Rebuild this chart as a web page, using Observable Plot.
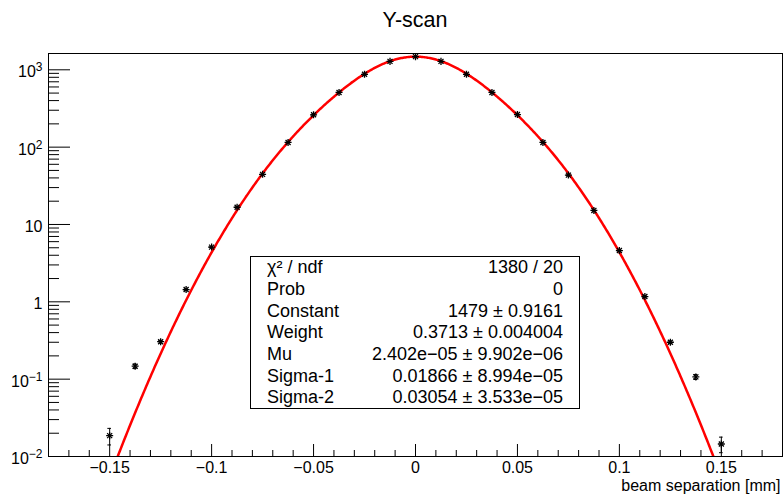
<!DOCTYPE html>
<html>
<head>
<meta charset="utf-8">
<script src="https://cdn.jsdelivr.net/npm/d3@7"></script>
<script src="https://cdn.jsdelivr.net/npm/@observablehq/plot@0.6"></script>
<style>
  body { margin: 0; background: #fff; font-family: "Liberation Sans", Arial, Helvetica, sans-serif; }
  #wrap { position: relative; width: 783px; height: 498px; }
  #title { position: absolute; left: 48px; width: 734px; top: 10px; text-align: center;
           font-size: 21.5px; line-height: 1; color: #000; }
  #chart { position: absolute; left: 0; top: 40px; }
</style>
</head>
<body>
<div id="wrap">
  <div id="title">Y-scan</div>
  <div id="chart"></div>
</div>
<script>
// ---- data ----
const xValues = [-0.15, -0.1375, -0.125, -0.1125, -0.1, -0.0875, -0.075, -0.0625, -0.05, -0.0375, -0.025, -0.0125,
                 0, 0.0125, 0.025, 0.0375, 0.05, 0.0625, 0.075, 0.0875, 0.1, 0.1125, 0.125, 0.1375, 0.15];
const yValues = [0.0186, 0.147, 0.305, 1.44, 5.1, 16.7, 44.5, 115, 262, 510, 875, 1285,
                 1480, 1285, 875, 510, 264, 115, 43.5, 15.2, 4.6, 1.17, 0.30, 0.107, 0.0145];
const yErrors = [0.0045, 0.010, 0.012, 0.03, 0.06, 0.12, 0.2, 0.35, 0.5, 0.7, 0.9, 1.1,
                 1.2, 1.1, 0.9, 0.7, 0.5, 0.35, 0.2, 0.12, 0.06, 0.03, 0.012, 0.008, 0.0033];

// fit function parameters (double Gaussian) from the stats box
const fitParams = [1479, 0.3713, 2.402e-05, 0.01866, 0.03054]; // Constant, Weight, Mu, Sigma-1, Sigma-2

const xMajorTicks = [-0.15, -0.1, -0.05, 0, 0.05, 0.1, 0.15];
const xTickLabels = ["\u22120.15", "\u22120.1", "\u22120.05", "0", "0.05", "0.1", "0.15"];
const xMinorTicks = [-0.17, -0.16, -0.14, -0.13, -0.12, -0.11, -0.09, -0.08, -0.07, -0.06, -0.04, -0.03, -0.02, -0.01,
                     0.01, 0.02, 0.03, 0.04, 0.06, 0.07, 0.08, 0.09, 0.11, 0.12, 0.13, 0.14, 0.16, 0.17];
const yMajorTicks = [0.01, 0.1, 1, 10, 100, 1000];
const yTickBase = ["10", "10", "1", "10", "10", "10"];
const yTickExp  = ["\u22122", "\u22121", "", "", "2", "3"];
const yDecades = [0.01, 0.1, 1, 10, 100];
const yMinorMult = [2, 3, 4, 5, 6, 7, 8, 9];

const xLabel = "beam separation [mm]";
const statsLabels = ["\u03c7\u00b2 / ndf", "Prob", "Constant", "Weight", "Mu", "Sigma-1", "Sigma-2"];
const statsValues = ["1380 / 20", "0", "1479 \u00b1 0.9161", "0.3713 \u00b1 0.004004",
                     "2.402e\u221205 \u00b1 9.902e\u221206", "0.01866 \u00b1 8.994e\u221205", "0.03054 \u00b1 3.533e\u221205"];

// ---- build tables ----
const points = xValues.map((x, i) => ({x, y: yValues[i], e: yErrors[i]}));
const yMinorTicks = [];
yDecades.forEach(d => yMinorMult.forEach(m => yMinorTicks.push(+(d * m).toPrecision(3))));

const [C, W, MU, S1, S2] = fitParams;
const fitFn = x => C * (W * Math.exp(-0.5 * ((x - MU) / S1) ** 2) + (1 - W) * Math.exp(-0.5 * ((x - MU) / S2) ** 2));
const curve = d3.range(-0.18, 0.18001, 0.0005).map(x => ({x, y: fitFn(x)}));

// ---- layout ----
const width = 783, height = 458;
const mL = 48, mR = 1, mT = 13, mB = 42;
const frameW = width - mL - mR, frameH = height - mT - mB;
const cap = 0.0009;

const plot = Plot.plot({
  width, height,
  marginLeft: mL, marginRight: mR, marginTop: mT, marginBottom: mB,
  style: {fontFamily: "Liberation Sans, Arial, Helvetica, sans-serif", background: "white", color: "black", overflow: "visible"},
  x: {domain: [-0.18, 0.18]},
  y: {type: "log", domain: [0.01, 1625]},
  marks: [
    Plot.line(curve, {x: "x", y: "y", stroke: "#ff0000", strokeWidth: 2.5, clip: true}),
    Plot.ruleX(points, {x: "x", y1: d => d.y - d.e, y2: d => d.y + d.e, stroke: "black", strokeWidth: 1, clip: true}),
    Plot.ruleY(points, {y: d => d.y - d.e, x1: d => d.x - cap, x2: d => d.x + cap, stroke: "black", strokeWidth: 1, clip: true}),
    Plot.ruleY(points, {y: d => d.y + d.e, x1: d => d.x - cap, x2: d => d.x + cap, stroke: "black", strokeWidth: 1, clip: true}),
    Plot.dot(points, {x: "x", y: "y", symbol: "plus", r: 2.4, stroke: "black", strokeWidth: 1.3}),
    Plot.dot(points, {x: "x", y: "y", symbol: "times", r: 2.4, stroke: "black", strokeWidth: 1.3}),
    Plot.tickX(xMajorTicks, {x: d => d, insetTop: frameH - 12, stroke: "black"}),
    Plot.tickX(xMinorTicks, {x: d => d, insetTop: frameH - 6, stroke: "black"}),
    Plot.tickY(yMajorTicks, {y: d => d, insetRight: frameW - 22, stroke: "black"}),
    Plot.tickY(yMinorTicks, {y: d => d, insetRight: frameW - 11, stroke: "black"}),
    Plot.frame({stroke: "black", strokeWidth: 1}),
    Plot.axisX(xMajorTicks, {tickSize: 0, tickPadding: 5.4, fontSize: 16, label: null,
      tickFormat: d => xTickLabels[xMajorTicks.indexOf(d)]}),
    Plot.axisY(yMajorTicks, {tickSize: 0, tickPadding: 6, fontSize: 16, label: null, dy: 2.5,
      tickFormat: d => { const i = yMajorTicks.indexOf(d); return yTickBase[i] + (yTickExp[i] ? "^" + yTickExp[i] : ""); }}),
    Plot.text([xLabel], {text: d => d, frameAnchor: "bottom-right", textAnchor: "end", lineAnchor: "top",
      fontSize: 16, dx: -2, dy: 23.2})
  ]
});

document.getElementById("chart").appendChild(plot);
const svg = d3.select(plot);

// superscript exponents on the log-axis labels
svg.selectAll("text").each(function () {
  const t = this.textContent;
  if (t.includes("^")) {
    const [base, exp] = t.split("^");
    const el = d3.select(this);
    el.text(null);
    el.append("tspan").text(base);
    el.append("tspan").attr("font-size", 12).attr("dy", -6).text(exp);
  }
});

// stats box (ROOT TPaveStats style)
const box = {x: 250, y: 216, w: 329, h: 152};
const g = svg.append("g").attr("font-family", "Liberation Sans, Arial, Helvetica, sans-serif").attr("font-size", 18);
g.append("rect").attr("x", box.x + 0.5).attr("y", box.y + 0.5).attr("width", box.w).attr("height", box.h)
  .attr("fill", "white").attr("stroke", "black").attr("stroke-width", 1);
const rowH = box.h / statsLabels.length;
statsLabels.forEach((lab, i) => {
  const yb = box.y + rowH * (i + 0.5) + 6.3;
  g.append("text").attr("x", box.x + 17).attr("y", yb).attr("text-anchor", "start").text(lab);
  g.append("text").attr("x", box.x + box.w - 16).attr("y", yb).attr("text-anchor", "end").text(statsValues[i]);
});
</script>
</body>
</html>
